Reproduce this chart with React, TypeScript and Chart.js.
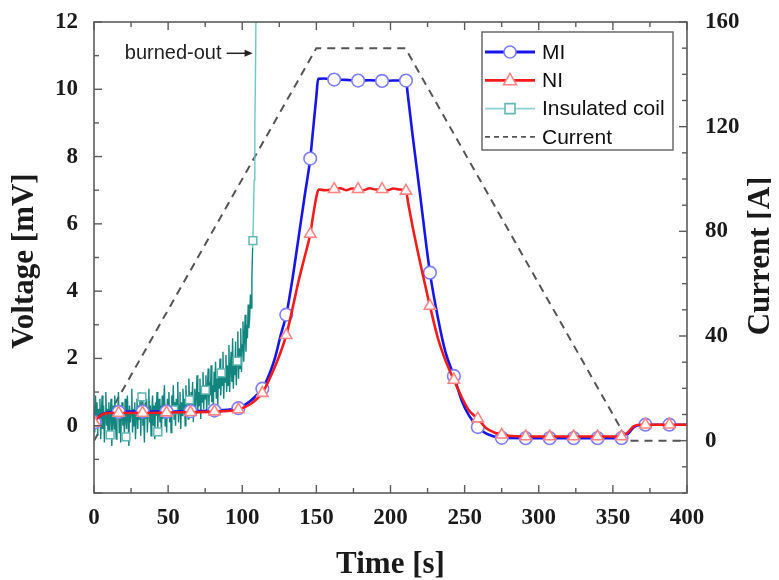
import React, { useEffect, useRef } from "react";
import { Chart, registerables } from "chart.js";

Chart.register(...registerables);

// ---------- data ----------
const timeTickStep = 50;
const voltageTicks = [0, 2, 4, 6, 8, 10, 12];
const currentTicks = [0, 40, 80, 120, 160];

// Coil current (right axis)
const currentTime = [0, 150, 210, 360, 400];
const currentA = [0, 150, 150, 0, 0];

// MI coil voltage curve
const miTime = [0, 2, 5, 10, 20, 40, 60, 80, 95, 100, 105, 110, 113.55, 118, 122, 126, 129.7, 134, 138, 142, 145.85, 148, 150, 151.2, 155, 162, 170, 178.15, 186, 194.3, 202, 210.45, 211.5, 215, 220, 226.6, 232, 237, 242.75, 248, 253, 258.9, 264, 270, 275.05, 290, 310, 330, 355.8, 360, 364, 368, 372, 388, 400];
const miV = [0.05, 0.2, 0.33, 0.4, 0.42, 0.42, 0.43, 0.45, 0.5, 0.58, 0.72, 0.92, 1.1, 1.5, 2.0, 2.7, 3.3, 4.4, 5.6, 6.8, 7.94, 8.9, 9.8, 10.31, 10.32, 10.29, 10.28, 10.26, 10.27, 10.25, 10.26, 10.26, 9.9, 8.6, 6.85, 4.55, 3.2, 2.2, 1.48, 0.75, 0.3, -0.04, -0.22, -0.32, -0.36, -0.37, -0.37, -0.37, -0.37, -0.25, -0.05, 0.02, 0.03, 0.03, 0.03];

// NI coil voltage curve
const niTime = [0, 2, 5, 10, 30, 60, 80, 95, 100, 105, 110, 113.55, 118, 122, 126, 129.7, 134, 138, 142, 145.85, 148, 150, 151.5, 156, 162, 166, 170, 174, 178.15, 182, 186, 190, 194.3, 198, 202, 206, 210.45, 212, 215, 220, 226.6, 232, 237, 242.75, 248, 253, 258.9, 264, 270, 275.05, 290, 355.8, 360, 364, 368, 400];
const niV = [0.05, 0.2, 0.32, 0.38, 0.38, 0.4, 0.42, 0.46, 0.52, 0.63, 0.8, 0.97, 1.35, 1.75, 2.2, 2.69, 3.5, 4.3, 5.0, 5.7, 6.3, 6.8, 7.02, 7.0, 7.03, 7.06, 7.0, 7.05, 7.03, 7.0, 7.06, 7.02, 7.03, 7.0, 7.05, 7.02, 6.98, 6.6, 5.9, 4.85, 3.56, 2.6, 1.95, 1.36, 0.85, 0.45, 0.21, -0.05, -0.2, -0.27, -0.32, -0.32, -0.2, -0.02, 0.03, 0.03];

// Marker positions for MI / NI
const markerTime = [0.5, 16.65, 32.8, 48.95, 65.1, 81.25, 97.4, 113.55, 129.7, 145.85, 162, 178.15, 194.3, 210.45, 226.6, 242.75, 258.9, 275.05, 291.2, 307.35, 323.5, 339.65, 355.8, 371.95, 388.1];
const miMarkV = [0.1, 0.41, 0.42, 0.42, 0.43, 0.45, 0.52, 1.1, 3.3, 7.94, 10.29, 10.26, 10.25, 10.26, 4.55, 1.48, -0.04, -0.36, -0.37, -0.37, -0.37, -0.37, -0.37, 0.03, 0.03];
const niMarkV = [0.08, 0.38, 0.38, 0.39, 0.4, 0.42, 0.48, 0.97, 2.69, 5.7, 7.03, 7.03, 7.03, 6.98, 3.56, 1.36, 0.21, -0.27, -0.32, -0.32, -0.32, -0.32, -0.32, 0.03, 0.03];

// Insulated coil (noisy record, sampled every 0.5 s from t = 0)
const insulatedStart = 0;
const insulatedStep = 0.5;
const insulatedV = [
  0.6, -0.2, 0.9, 0.1, 0.7, -0.3, 0.5, 0.0, 0.8, -0.4,
  0.4, 0.9, -0.1, 0.6, -0.5, 0.3, 1.0, 0.0, 0.5, -0.3,
  0.7, -0.2, 0.4, 0.8, -0.6, 0.2, 0.6, -0.1, 0.9, 0.1,
  -0.4, 0.5, 0.3, 1.0, -0.2, 0.6, -0.5, 0.4, 0.7, 0.0,
  0.5, -0.3, 0.8, 0.2, -0.1, 0.9, 0.3, -0.6, 0.6, 0.1,
  0.4, 1.1, -0.2, 0.5, 0.0, 0.7, -0.4, 0.3, 0.8, -0.1,
  0.6, 0.2, 1.0, -0.3, 0.5, 0.9, 0.0, 0.4, -0.5, 0.7,
  0.2, 0.8, -0.2, 0.5, 1.1, 0.1, 0.6, -0.3, 0.4, 0.9,
  0.0, 0.6, -0.4, 0.7, 0.3, 1.0, -0.1, 0.5, 0.8, 0.1,
  0.6, -0.3, 0.9, 0.2, 0.7, 1.2, 0.0, 0.5, -0.2, 0.8,
  0.3, 1.0, 0.1, 0.6, -0.2, 0.9, 0.4, 1.2, 0.2, 0.7,
  0.0, 0.8, 0.4, 1.3, 0.1, 0.6, 1.0, -0.1, 0.7, 0.3,
  1.1, 0.4, 0.8, 0.0, 1.2, 0.5, 0.9, 0.2, 1.4, 0.6,
  0.3, 1.0, 0.5, 1.3, 0.1, 0.8, 1.1, 0.4, 0.9, 1.5,
  0.4, 1.0, 0.6, 1.4, 0.2, 1.1, 0.7, 1.6, 0.5, 1.2,
  0.8, 1.5, 0.4, 1.1, 1.7, 0.6, 1.3, 0.9, 1.8, 0.7,
  1.2, 0.5, 1.6, 1.0, 1.9, 0.8, 1.4, 0.6, 1.7, 1.1,
  2.0, 0.9, 1.5, 1.2, 2.2, 0.8, 1.6, 1.3, 2.1, 1.0,
  1.8, 1.2, 2.4, 1.0, 1.7, 2.2, 1.3, 2.6, 1.1, 1.9,
  1.5, 2.5, 1.2, 2.0, 2.8, 1.4, 2.3, 1.7, 2.9, 1.6,
  2.4, 3.1, 1.9, 2.7, 3.3, 2.2, 3.0, 2.6, 3.6, 2.9,
  3.2, 3.9, 3.5, 4.4, 5.3, 6.1, 7.3, 8.9, 10.8, 13.5,
];
const insMarkTime = [10.9, 21.6, 32.3, 43.0, 53.7, 64.4, 75.1, 85.8, 96.5, 107.2];
const insMarkV = [-0.27, -0.33, 0.86, -0.18, 0.47, 0.77, 1.06, 1.57, 1.92, 5.5];

// ---------- styles ----------
const SERIF = "'Liberation Serif', 'Times New Roman', serif";
const SANS = "'Liberation Sans', Arial, sans-serif";
const MI_COLOR = "#1616e8";
const MI_MARK = "#7d7dff";
const NI_COLOR = "#f21c1c";
const NI_MARK = "#ff8585";
const INS_COLOR = "#12857f";
const INS_LIGHT = "#6cc8c3";
const INS_MARK = "#62b8b3";
const CUR_COLOR = "#555555";

const pts = (xs: number[], ys: number[]) => xs.map((x, i) => ({ x, y: ys[i] }));

function drawMarker(ctx: CanvasRenderingContext2D, kind: string, x: number, y: number, color: string) {
  ctx.save();
  ctx.fillStyle = "#ffffff";
  ctx.strokeStyle = color;
  ctx.lineWidth = 1.6;
  ctx.setLineDash([]);
  ctx.beginPath();
  if (kind === "circle") {
    ctx.arc(x, y, 6, 0, Math.PI * 2);
  } else if (kind === "triangle") {
    ctx.moveTo(x, y - 7);
    ctx.lineTo(x + 6.5, y + 4.5);
    ctx.lineTo(x - 6.5, y + 4.5);
    ctx.closePath();
  } else {
    ctx.rect(x - 5, y - 5, 10, 10);
  }
  ctx.fill();
  ctx.stroke();
  ctx.restore();
}

const decorPlugin = {
  id: "decor",
  afterDraw(chart: any) {
    const { ctx, chartArea: a, scales } = chart;
    const xs = scales.x, ys = scales.y, y2 = scales.y2;
    ctx.save();
    // frame
    ctx.strokeStyle = "#5c5c5c";
    ctx.lineWidth = 1.6;
    ctx.strokeRect(a.left, a.top, a.right - a.left, a.bottom - a.top);
    const seg = (x1: number, y1: number, x2: number, y2p: number) => {
      ctx.beginPath();
      ctx.moveTo(x1, y1);
      ctx.lineTo(x2, y2p);
      ctx.stroke();
    };
    ctx.lineWidth = 1.4;
    // time ticks (inward, bottom and top)
    for (let t = xs.min; t <= xs.max + 1e-6; t += timeTickStep / 2) {
      const px = xs.getPixelForValue(t);
      const len = Math.abs(t % timeTickStep) < 1e-6 ? 8 : 5;
      seg(px, a.bottom, px, a.bottom - len);
      seg(px, a.top, px, a.top + len);
    }
    // voltage ticks (left)
    for (let v = ys.min; v <= ys.max + 1e-6; v += 1) {
      const py = ys.getPixelForValue(v);
      const len = Math.abs(v % 2) < 1e-6 ? 8 : 5;
      seg(a.left, py, a.left + len, py);
    }
    // current ticks (right)
    for (let v = y2.min; v <= y2.max + 1e-6; v += 10) {
      const py = y2.getPixelForValue(v);
      const len = Math.abs(v % 40) < 1e-6 ? 8 : 5;
      seg(a.right, py, a.right - len, py);
    }

    // axis titles
    ctx.fillStyle = "#1a1a1a";
    ctx.font = `bold 31px ${SERIF}`;
    ctx.textAlign = "center";
    ctx.textBaseline = "middle";
    ctx.fillText("Time [s]", (a.left + a.right) / 2, 557);
    ctx.save();
    ctx.translate(17, 253);
    ctx.rotate(-Math.PI / 2);
    ctx.fillText("Voltage [mV]", 0, 0);
    ctx.restore();
    ctx.save();
    ctx.translate(753, 248);
    ctx.rotate(-Math.PI / 2);
    ctx.fillText("Current [A]", 0, 0);
    ctx.restore();

    // burned-out annotation
    const ay = ys.getPixelForValue(11.07);
    const tx = xs.getPixelForValue(86);
    ctx.font = `20px ${SANS}`;
    ctx.textAlign = "right";
    ctx.fillStyle = "#222222";
    ctx.fillText("burned-out", tx, ay);
    const ax1 = xs.getPixelForValue(89.5);
    const ax2 = xs.getPixelForValue(107);
    ctx.strokeStyle = "#222222";
    ctx.lineWidth = 1.5;
    seg(ax1, ay, ax2 - 6, ay);
    ctx.beginPath();
    ctx.moveTo(ax2, ay);
    ctx.lineTo(ax2 - 8, ay - 3.5);
    ctx.lineTo(ax2 - 8, ay + 3.5);
    ctx.closePath();
    ctx.fill();

    // legend
    const lx = 474, ly = 24, lw = 191, lh = 118;
    ctx.fillStyle = "#ffffff";
    ctx.fillRect(lx, ly, lw, lh);
    ctx.strokeStyle = "#6a6a6a";
    ctx.lineWidth = 1.5;
    ctx.strokeRect(lx, ly, lw, lh);
    const entries = [
      { label: "MI", color: MI_COLOR, mark: "circle", markColor: MI_MARK, width: 2.8, dash: [] as number[] },
      { label: "NI", color: NI_COLOR, mark: "triangle", markColor: NI_MARK, width: 2.8, dash: [] as number[] },
      { label: "Insulated coil", color: "#8fd2ce", mark: "rect", markColor: INS_MARK, width: 1.8, dash: [] as number[] },
      { label: "Current", color: CUR_COLOR, mark: "", markColor: "", width: 1.8, dash: [5, 4] },
    ];
    entries.forEach((e, i) => {
      const ry = ly + 20 + i * 28.3;
      ctx.strokeStyle = e.color;
      ctx.lineWidth = e.width;
      ctx.setLineDash(e.dash);
      seg(lx + 3, ry, lx + 53, ry);
      ctx.setLineDash([]);
      if (e.mark) drawMarker(ctx, e.mark, lx + 28, ry, e.markColor);
      ctx.fillStyle = "#111111";
      ctx.font = `21px ${SANS}`;
      ctx.textAlign = "left";
      ctx.textBaseline = "middle";
      ctx.fillText(e.label, lx + 60, ry + 1);
    });
    ctx.restore();
  },
};

export default function App() {
  const ref = useRef<HTMLCanvasElement | null>(null);

  useEffect(() => {
    if (!ref.current) return;
    const tickFont = { family: SERIF, size: 23, weight: "bold" as const };
    const insPts = insulatedV.map((v, i) => ({ x: insulatedStart + i * insulatedStep, y: v }));
    const chart = new Chart(ref.current, {
      type: "scatter",
      data: {
        datasets: [
          {
            label: "NI markers",
            data: pts(markerTime, niMarkV),
            showLine: false,
            pointStyle: "triangle",
            pointRadius: 6.5,
            pointBackgroundColor: "#ffffff",
            pointBorderColor: NI_MARK,
            pointBorderWidth: 1.6,
            yAxisID: "y",
          },
          {
            label: "NI",
            data: pts(niTime, niV),
            showLine: true,
            borderColor: NI_COLOR,
            borderWidth: 2.6,
            pointRadius: 0,
            cubicInterpolationMode: "monotone",
            yAxisID: "y",
          },
          {
            label: "MI markers",
            data: pts(markerTime, miMarkV),
            showLine: false,
            pointStyle: "circle",
            pointRadius: 6.3,
            pointBackgroundColor: "#ffffff",
            pointBorderColor: MI_MARK,
            pointBorderWidth: 1.6,
            yAxisID: "y",
          },
          {
            label: "MI",
            data: pts(miTime, miV),
            showLine: true,
            borderColor: MI_COLOR,
            borderWidth: 2.6,
            pointRadius: 0,
            cubicInterpolationMode: "monotone",
            yAxisID: "y",
          },
          {
            label: "Insulated markers",
            data: pts(insMarkTime, insMarkV),
            showLine: false,
            pointStyle: "rect",
            pointRadius: 5.5,
            pointBackgroundColor: "#ffffff",
            pointBorderColor: INS_MARK,
            pointBorderWidth: 1.5,
            yAxisID: "y",
          },
          {
            label: "Insulated coil",
            data: insPts,
            showLine: true,
            borderColor: INS_COLOR,
            borderWidth: 1.4,
            pointRadius: 0,
            tension: 0,
            clip: 0,
            segment: {
              borderColor: (c: any) => (c.p0.parsed.y > 5.2 ? INS_LIGHT : INS_COLOR),
            },
            yAxisID: "y",
          },
          {
            label: "Current",
            data: pts(currentTime, currentA),
            showLine: true,
            borderColor: CUR_COLOR,
            borderWidth: 2,
            borderDash: [8, 6],
            pointRadius: 0,
            tension: 0,
            yAxisID: "y2",
          },
        ],
      },
      options: {
        animation: false,
        responsive: true,
        maintainAspectRatio: false,
        layout: { padding: { top: 14, left: 0, right: 0, bottom: 0 } },
        plugins: { legend: { display: false }, tooltip: { enabled: false } },
        scales: {
          x: {
            type: "linear",
            min: 0,
            max: 400,
            ticks: { stepSize: timeTickStep, font: tickFont, color: "#1a1a1a", padding: 11, maxRotation: 0 },
            grid: { display: false, drawTicks: false },
            border: { display: false },
            afterFit: (s: any) => {
              s.height = 87;
              s.paddingLeft = 0;
              s.paddingRight = 0;
            },
          },
          y: {
            type: "linear",
            position: "left",
            min: -2,
            max: 12,
            ticks: { font: tickFont, color: "#1a1a1a", padding: 16 },
            afterBuildTicks: (s: any) => {
              s.ticks = voltageTicks.map((v) => ({ value: v }));
            },
            grid: { display: false, drawTicks: false },
            border: { display: false },
            afterFit: (s: any) => {
              s.width = 86;
              s.paddingTop = 0;
              s.paddingBottom = 0;
            },
          },
          y2: {
            type: "linear",
            position: "right",
            min: -20,
            max: 160,
            ticks: { font: tickFont, color: "#1a1a1a", padding: 18 },
            afterBuildTicks: (s: any) => {
              s.ticks = currentTicks.map((v) => ({ value: v }));
            },
            grid: { display: false, drawTicks: false },
            border: { display: false },
            afterFit: (s: any) => {
              s.width = 84;
              s.paddingTop = 0;
              s.paddingBottom = 0;
            },
          },
        },
      },
      plugins: [decorPlugin],
    });
    return () => chart.destroy();
  }, []);

  return (
    <div style={{ width: 763, height: 572, position: "relative", background: "#ffffff" }}>
      <canvas ref={ref} />
    </div>
  );
}
